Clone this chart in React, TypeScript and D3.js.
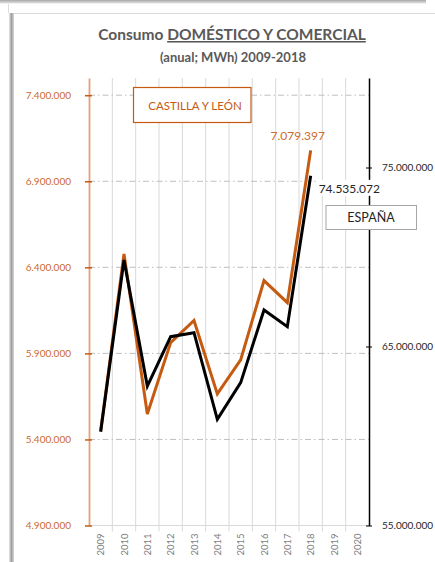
import React, { useEffect, useRef } from 'react';
import * as d3 from 'd3';

const years = ['2009', '2010', '2011', '2012', '2013', '2014', '2015', '2016', '2017', '2018', '2019', '2020'];
const castillaLeon = [5449000, 6478000, 5548000, 5963000, 6091000, 5665000, 5862000, 6323000, 6195000, 7079397];
const espana = [60240000, 69830000, 62790000, 65550000, 65770000, 60930000, 62980000, 67040000, 66110000, 74535072];
const leftTicks = [4900000, 5400000, 5900000, 6400000, 6900000, 7400000];
const rightTicks = [55000000, 65000000, 75000000];

const ORANGE = '#C55A11';
const FONT = 'Lato, "Open Sans", sans-serif';

function Chart() {
  const canvas = useRef<SVGSVGElement>(null);

  useEffect(() => {
    const width = 435;
    const height = 562;
    const left = 89, right = 369, top = 78, bottom = 525.5;

    const svg = d3.select(canvas.current).attr('width', width).attr('height', height);
    svg.selectAll('*').remove();

    const fmt = d3.formatLocale({ decimal: ',', thousands: '.', grouping: [3], currency: ['', '€'] }).format(',.0f');

    const x = d3.scaleBand().domain(years).range([left, right]);
    const yL = d3.scaleLinear().domain([4900000, 7500000]).range([bottom, top]);
    const yR = d3.scaleLinear().domain([55000000, 80000000]).range([bottom, top]);

    // frame / shadow of the original screenshot
    const defs = svg.append('defs');
    const gTop = defs.append('linearGradient').attr('id', 'shTop').attr('x1', 0).attr('y1', 0).attr('x2', 0).attr('y2', 1);
    gTop.append('stop').attr('offset', 0).attr('stop-color', '#a8a8a8');
    gTop.append('stop').attr('offset', 1).attr('stop-color', '#e4e4e4');
    const gLeft = defs.append('linearGradient').attr('id', 'shLeft').attr('x1', 0).attr('y1', 0).attr('x2', 1).attr('y2', 0);
    gLeft.append('stop').attr('offset', 0).attr('stop-color', '#e6e6e6');
    gLeft.append('stop').attr('offset', 0.5).attr('stop-color', '#a0a0a0');
    gLeft.append('stop').attr('offset', 1).attr('stop-color', '#d8d8d8');

    svg.append('rect').attr('x', 0).attr('y', 0).attr('width', 426).attr('height', 3.5).attr('fill', 'url(#shTop)');
    svg.append('line').attr('x1', 8.5).attr('x2', 8.5).attr('y1', 4).attr('y2', 13).attr('stroke', '#dcdcdc');
    svg.append('rect').attr('x', 9).attr('y', 13).attr('width', 5).attr('height', height - 13).attr('fill', 'url(#shLeft)');
    svg.append('line').attr('x1', 14).attr('x2', width).attr('y1', 13.5).attr('y2', 13.5).attr('stroke', '#dadada');

    // title
    const title = svg.append('text')
      .attr('x', 232).attr('y', 40)
      .attr('text-anchor', 'middle')
      .attr('font-family', FONT).attr('font-weight', 'bold').attr('font-size', 15.5)
      .attr('fill', '#595959');
    title.append('tspan').text('Consumo ');
    title.append('tspan').attr('text-decoration', 'underline').text('DOMÉSTICO Y COMERCIAL');
    svg.append('text')
      .attr('x', 233).attr('y', 61.5)
      .attr('text-anchor', 'middle')
      .attr('font-family', FONT).attr('font-weight', 'bold').attr('font-size', 13)
      .attr('fill', '#595959')
      .text('(anual; MWh) 2009-2018');

    // vertical grid between categories
    svg.append('g').selectAll('line')
      .data(years.slice(1))
      .enter().append('line')
      .attr('x1', d => x(d)!).attr('x2', d => x(d)!)
      .attr('y1', top).attr('y2', bottom + 6)
      .attr('stroke', '#d9d9d9').attr('stroke-width', 1);

    // horizontal dash-dot grid
    svg.append('g').selectAll('line')
      .data(leftTicks)
      .enter().append('line')
      .attr('x1', left).attr('x2', right)
      .attr('y1', d => yL(d)).attr('y2', d => yL(d))
      .attr('stroke', '#bfbfbf').attr('stroke-width', 1)
      .attr('stroke-dasharray', '6,3,1.5,3');

    // x axis
    svg.append('line').attr('x1', left).attr('x2', right).attr('y1', bottom).attr('y2', bottom)
      .attr('stroke', '#d9d9d9');
    svg.append('g').selectAll('text')
      .data(years)
      .enter().append('text')
      .attr('transform', d => `translate(${x(d)! + x.bandwidth() / 2 + 3.5},${bottom + 8}) rotate(-90)`)
      .attr('text-anchor', 'end')
      .attr('font-family', FONT).attr('font-size', 9.5)
      .attr('fill', '#7f7f7f')
      .text(d => d);

    // left axis
    const axL = svg.append('g').attr('transform', `translate(${left},0)`)
      .call(d3.axisLeft(yL).tickValues(leftTicks).tickFormat(d => fmt(d as number)).tickSizeInner(4).tickSizeOuter(0).tickPadding(14));
    axL.select('.domain').attr('stroke', '#e4a27a').attr('stroke-width', 1.8);
    axL.selectAll('.tick line').attr('stroke', ORANGE).attr('stroke-width', 1.5).attr('x2', 3).attr('x1', -4);
    axL.selectAll('.tick text').attr('fill', '#cc6a2c').attr('font-family', FONT).attr('font-size', 10);

    // right axis
    const axR = svg.append('g').attr('transform', `translate(${right},0)`)
      .call(d3.axisRight(yR).tickValues(rightTicks).tickFormat(d => fmt(d as number)).tickSizeInner(3).tickSizeOuter(0).tickPadding(10));
    axR.select('.domain').attr('stroke', '#000').attr('stroke-width', 1.5);
    axR.selectAll('.tick line').attr('stroke', '#000').attr('x1', -3).attr('x2', 3);
    axR.selectAll('.tick text').attr('fill', '#262626').attr('font-family', FONT).attr('font-size', 10);

    // lines
    const cx = (i: number) => x(years[i])! + x.bandwidth() / 2;
    const lineL = d3.line<number>().x((_, i) => cx(i)).y(d => yL(d));
    const lineR = d3.line<number>().x((_, i) => cx(i)).y(d => yR(d));

    svg.append('path').datum(castillaLeon).attr('d', lineL)
      .attr('fill', 'none').attr('stroke', ORANGE).attr('stroke-width', 3);
    svg.append('path').datum(espana).attr('d', lineR)
      .attr('fill', 'none').attr('stroke', '#000').attr('stroke-width', 3);

    // data labels
    const lastL = castillaLeon.length - 1;
    svg.append('text')
      .attr('x', cx(lastL) - 13).attr('y', yL(castillaLeon[lastL]) - 10)
      .attr('text-anchor', 'middle')
      .attr('font-family', FONT).attr('font-size', 12)
      .attr('fill', '#d06a2a')
      .text(fmt(castillaLeon[lastL]));

    const lastR = espana.length - 1;
    svg.append('rect')
      .attr('x', cx(lastR) + 6).attr('y', yR(espana[lastR]) + 4)
      .attr('width', 62).attr('height', 16).attr('fill', '#fff');
    svg.append('text')
      .attr('x', cx(lastR) + 8).attr('y', yR(espana[lastR]) + 17)
      .attr('font-family', FONT).attr('font-size', 12)
      .attr('fill', '#262626')
      .text(fmt(espana[lastR]));

    // legend boxes
    svg.append('rect').attr('x', 133.5).attr('y', 87.5).attr('width', 117.5).attr('height', 35)
      .attr('fill', '#fff').attr('stroke', ORANGE).attr('stroke-width', 1.2);
    svg.append('text').attr('x', 195).attr('y', 109.5).attr('text-anchor', 'middle')
      .attr('font-family', FONT).attr('font-size', 11.5).attr('fill', ORANGE)
      .text('CASTILLA Y LEÓN');

    svg.append('rect').attr('x', 326).attr('y', 205.5).attr('width', 90.5).attr('height', 24)
      .attr('fill', '#fff').attr('stroke', '#a6a6a6').attr('stroke-width', 1);
    svg.append('text').attr('x', 371).attr('y', 222).attr('text-anchor', 'middle')
      .attr('font-family', FONT).attr('font-size', 12.5).attr('fill', '#262626')
      .text('ESPAÑA');
  });

  return (
    <div style={{ position: 'absolute', left: 0, top: 0 }}>
      <svg ref={canvas} style={{ display: 'block', background: '#fff' }}></svg>
    </div>
  );
}

export default function App() {
  return <Chart />;
}
